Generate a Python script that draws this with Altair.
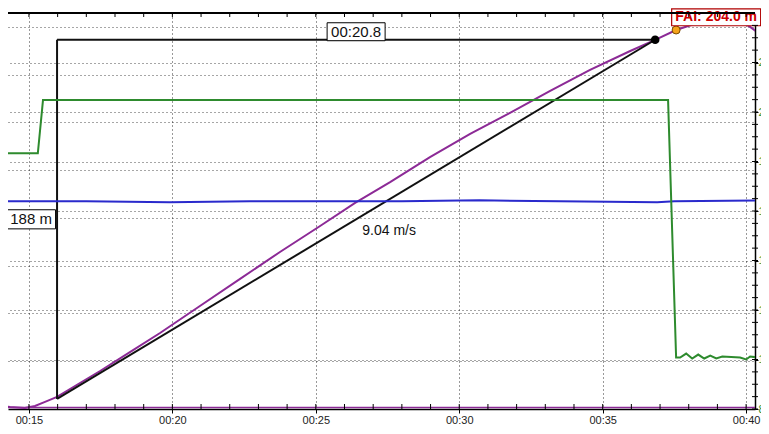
import altair as alt
import pandas as pd

# ---- data ----
# altitude trace: time (s) / altitude (m)
alt_t = [13.99, 14.34, 14.86, 15.21, 15.56, 15.98, 16.78, 17.48, 18.52, 19.57, 20.96,
         22.36, 23.75, 25.15, 26.37, 27.59, 28.98, 30.38, 31.77, 33.17, 34.56, 35.96,
         36.83, 37.56, 38.40, 39.20, 39.79, 40.14, 40.42]
alt_m = [2.1, 1.0, 0.5, 1.6, 3.7, 6.3, 13.6, 19.9, 29.8, 39.8, 53.9,
         68.1, 82.2, 95.8, 107.9, 118.8, 131.9, 144.0, 155.0, 166.5, 177.5, 187.4,
         193.2, 198.4, 202.6, 204.0, 203.1, 200.0, 196.9]
base_level = [0.8]

# throttle trace (right axis)
thr_t = [13.99, 15.31, 15.49, 37.28, 37.56, 37.70, 37.91, 38.12, 38.33, 38.54, 38.75,
         38.96, 39.17, 39.79, 40.00, 40.14, 40.42]
thr_v = [18.33, 18.33, 20.48, 20.48, 10.08, 10.08, 10.24, 10.04, 10.20, 10.04, 10.16,
         10.04, 10.12, 10.08, 10.00, 10.12, 10.08]

# blue trace (right axis)
blu_t = [13.99, 17.0, 19.9, 22.7, 25.0, 28.0, 30.7, 33.5, 36.9, 37.5, 40.42]
blu_v = [16.39, 16.39, 16.35, 16.39, 16.39, 16.39, 16.43, 16.39, 16.35, 16.39, 16.43]

# climb measurement
climb_t = [15.98, 36.83]
climb_a = [5.3, 193.3]
dur_label = "00:20.8"
height_label = "188 m"
rate_label = "9.04 m/s"

# events
ev_name = ["Throttle off", "FAI hit"]
ev_t = [37.56, 39.20]
ev_a = [198.4, 204.0]
fai_label = "FAI: 204.0 m"

x_ticks = [15, 20, 25, 30, 35, 40]
x_minor = [15, 16, 17, 18, 19, 20, 21, 22, 23, 24, 25, 26, 27, 28, 29, 30,
           31, 32, 33, 34, 35, 36, 37, 38, 39, 40]
alt_grid = [25, 50, 75, 100, 125, 150, 175, 200]
r_ticks = [8, 10, 12, 14, 16, 18, 20, 22]
r_minor = [8, 8.5, 9, 9.5, 10, 10.5, 11, 11.5, 12, 12.5, 13, 13.5, 14, 14.5, 15, 15.5,
           16, 16.5, 17, 17.5, 18, 18.5, 19, 19.5, 20, 20.5, 21, 21.5, 22, 22.5, 23, 23.5]

# ---- chart ----
W, H = 747, 396
FONT = "Liberation Sans"
PURPLE = "#8c2a96"
GREEN = "#2e8b2e"
BLUE = "#2a2acc"

xs = alt.Scale(domain=[14.27, 40.31], nice=False, zero=False)
ys = alt.Scale(domain=[0, 207.3], nice=False, zero=False)
rs = alt.Scale(domain=[8, 24], nice=False, zero=False)

df_alt = pd.DataFrame({"t": alt_t, "a": alt_m})
df_base = pd.DataFrame({"a": base_level})
df_thr = pd.DataFrame({"t": thr_t, "v": thr_v})
df_blu = pd.DataFrame({"t": blu_t, "v": blu_v})
t0, t1 = climb_t
a0, a1 = climb_a
df_seg = pd.DataFrame({"t": [t0, t0, t0], "a": [a0, a0, a1],
                       "t2": [t0, t1, t1], "a2": [a1, a1, a1]})
df_dur = pd.DataFrame({"t": [(t0 + t1) / 2], "a": [a1], "lab": [dur_label]})
df_hgt = pd.DataFrame({"t": [t0], "a": [(a0 + a1) / 2], "lab": [height_label]})
df_rate = pd.DataFrame({"t": [(t0 + t1) / 2], "a": [(a0 + a1) / 2], "lab": [rate_label]})
df_end = pd.DataFrame({"t": [t1], "a": [a1]})
df_ev = pd.DataFrame({"name": ev_name, "t": ev_t, "a": ev_a})
df_thr_off = df_ev.iloc[[0]]
df_fai = pd.DataFrame({"t": [ev_t[1]], "a": [ev_a[1]], "lab": [fai_label]})
df_xminor = pd.DataFrame({"t": x_minor})
df_rminor = pd.DataFrame({"v": r_minor})

xaxis = alt.Axis(values=x_ticks, title=None, grid=True, gridDash=[1, 3], gridColor="black",
                 gridOpacity=0.8, domainColor="black", domainWidth=1.5, tickColor="black",
                 tickSize=4, labelFont=FONT, labelFontSize=11, labelColor="#222",
                 labelPadding=1,
                 labelExpr="'00:' + (datum.value < 10 ? '0' : '') + datum.value")
yaxis = alt.Axis(values=alt_grid, title=None, grid=True, gridDash=[1, 3], gridColor="black",
                 gridOpacity=0.7, labels=False, ticks=False, domain=False)
raxis = alt.Axis(orient="right", values=r_ticks, title=None, grid=True, gridDash=[1, 3],
                 gridColor="black", gridOpacity=0.7, domainColor="black", domainWidth=1.5,
                 tickColor="black", tickSize=3, labelFont=FONT, labelFontSize=11,
                 labelColor=GREEN, labelPadding=0)

X = alt.X("t:Q", scale=xs, axis=xaxis)
Y = alt.Y("a:Q", scale=ys, axis=yaxis)
R = alt.Y("v:Q", scale=rs, axis=raxis)

purple = alt.Chart(df_alt).mark_line(color=PURPLE, strokeWidth=2, clip=True).encode(x=X, y=Y)
purple_base = alt.Chart(df_base).mark_rule(color=PURPLE, strokeWidth=1.5).encode(
    x=alt.value(0), x2=alt.value(W), y=Y)
segs = alt.Chart(df_seg).mark_rule(color="#111", strokeWidth=2).encode(
    x=X, y=Y, x2="t2:Q", y2="a2:Q")
end_dot = alt.Chart(df_end).mark_point(filled=True, color="black", size=75, opacity=1).encode(x=X, y=Y)
off_dot = alt.Chart(df_thr_off).mark_point(filled=True, size=64, opacity=1, fill="#f5a31a",
                                           stroke="#7a4a00", strokeWidth=1).encode(x=X, y=Y)
fai_dot = alt.Chart(df_fai).mark_point(filled=True, size=60, opacity=1, fill="#cc1111",
                                       stroke="#700000", strokeWidth=1).encode(x=X, y=Y)

box_dur = alt.Chart(df_dur).mark_point(shape="M-1,-0.31L1,-0.31L1,0.31L-1,0.31Z", size=3364,
                                       filled=True, fill="white", stroke="black", strokeWidth=1,
                                       opacity=1, yOffset=-8).encode(x=X, y=Y)
txt_dur = alt.Chart(df_dur).mark_text(font=FONT, fontSize=15, color="#111", dy=-8,
                                      baseline="middle").encode(x=X, y=Y, text="lab:N")
box_hgt = alt.Chart(df_hgt).mark_point(shape="M-1,-0.39L1,-0.39L1,0.39L-1,0.39Z", size=2401,
                                       filled=True, fill="white", stroke="black", strokeWidth=1,
                                       opacity=1, xOffset=-26).encode(x=X, y=Y)
txt_hgt = alt.Chart(df_hgt).mark_text(font=FONT, fontSize=15, color="#111", dx=-26,
                                      baseline="middle").encode(x=X, y=Y, text="lab:N")
txt_rate = alt.Chart(df_rate).mark_text(font=FONT, fontSize=14, color="#111", dx=33, dy=12,
                                        baseline="middle").encode(x=X, y=Y, text="lab:N")
box_fai = alt.Chart(df_fai).mark_point(shape="M-1,-0.19L1,-0.19L1,0.19L-1,0.19Z", size=7921,
                                       filled=True, fill="white", stroke="#b00000", strokeWidth=1.2,
                                       opacity=1, xOffset=-7, yOffset=-2).encode(x=X, y=Y)
txt_fai = alt.Chart(df_fai).mark_text(font=FONT, fontSize=14, fontWeight="bold", color="#cc0000",
                                      dx=-7, dy=-2, baseline="middle").encode(x=X, y=Y, text="lab:N")

bot_minor = alt.Chart(df_xminor).mark_rule(color="black", strokeWidth=1).encode(
    x=X, y=alt.value(H - 5), y2=alt.value(H))
top_minor = alt.Chart(df_xminor).mark_rule(color="black", strokeWidth=1).encode(
    x=X, y=alt.value(0), y2=alt.value(4))
top_border = alt.Chart(df_xminor).mark_rule(color="black", strokeWidth=1.2).encode(
    x=alt.value(0), x2=alt.value(W), y=alt.value(0))

left = alt.layer(purple, purple_base, segs, end_dot, off_dot, fai_dot, box_dur, txt_dur,
                 box_hgt, txt_hgt, txt_rate, box_fai, txt_fai, bot_minor, top_minor, top_border)

green = alt.Chart(df_thr).mark_line(color=GREEN, strokeWidth=2, clip=True).encode(x=X, y=R)
blue = alt.Chart(df_blu).mark_line(color=BLUE, strokeWidth=2, clip=True).encode(x=X, y=R)
r_minor_ticks = alt.Chart(df_rminor).mark_rule(color="black", strokeWidth=1).encode(
    x=alt.value(W - 3), x2=alt.value(W + 3), y=R)

right = alt.layer(blue, green, r_minor_ticks)

chart = alt.layer(left, right).resolve_scale(y="independent").properties(
    width=W, height=H,
    padding={"left": 0, "top": 5, "right": 6, "bottom": 17},
    autosize=alt.AutoSizeParams(type="none"),
).configure_view(stroke=None)

chart.save("out.html", embed_options={"renderer": "svg", "actions": False})
